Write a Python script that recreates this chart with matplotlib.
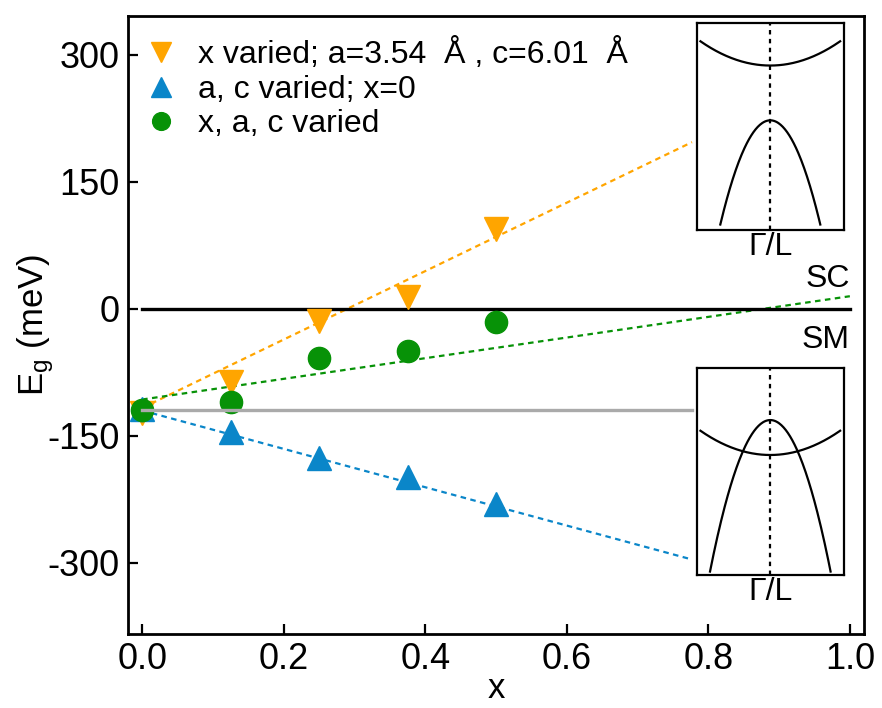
import matplotlib
matplotlib.use("Agg")
import matplotlib.pyplot as plt
import numpy as np

plt.rcParams['font.family'] = ['Liberation Sans', 'DejaVu Sans']
plt.rcParams['mathtext.default'] = 'regular'
plt.rcParams['axes.unicode_minus'] = False

# composition values
x = [0, 0.125, 0.25, 0.375, 0.5]
# band gaps (meV)
eg_x_varied = [-123, -86, -14, 14, 94]
eg_ac_varied = [-118, -145, -176, -199, -230]
eg_xac_varied = [-119, -110, -58, -50, -15]

# dotted guide lines (end points)
fit_x_orange = [0, 0.777]
fit_orange = [-117, 197]
fit_x_blue = [0, 0.777]
fit_blue = [-120, -296]
fit_x_green = [0, 1.0]
fit_green = [-107, 15]

# reference lines
zero_x = [0, 1.0]
zero_y = [0, 0]
gray_x = [0, 0.777]
gray_y = [-119, -119]

labels = ["x varied; a=3.54  Å , c=6.01  Å", "a, c varied; x=0", "x, a, c varied"]

c_orange = '#ffa500'
c_blue = '#0a86c9'
c_green = '#079207'
dash = (0, (2.5, 2))

fig = plt.figure(figsize=(8.82, 7.08), dpi=100)
ax = fig.add_axes([0.1451, 0.1045, 0.8345, 0.8729])

ax.plot(fit_x_orange, fit_orange, color=c_orange, lw=1.6, ls=dash, zorder=2)
ax.plot(fit_x_blue, fit_blue, color=c_blue, lw=1.6, ls=dash, zorder=2)
ax.plot(fit_x_green, fit_green, color=c_green, lw=1.6, ls=dash, zorder=2)
ax.plot(zero_x, zero_y, color='black', lw=2.4, zorder=2)

ax.plot(x, eg_x_varied, 'v', color=c_orange, ms=17.5, ls='none', label=labels[0], zorder=3)
ax.plot(x, eg_ac_varied, '^', color=c_blue, ms=17.5, ls='none', label=labels[1], zorder=3)
ax.plot(x, eg_xac_varied, 'o', color=c_green, ms=16, ls='none', label=labels[2], zorder=4)
ax.plot(gray_x, gray_y, color='#aaaaaa', lw=2.4, zorder=5)

ax.text(1.0, 35, 'SC', ha='right', va='center', fontsize=23)
ax.text(1.0, -37, 'SM', ha='right', va='center', fontsize=23)

ax.set_xlim(-0.02, 1.02)
ax.set_ylim(-384, 346)
ax.set_xticks([0, 0.2, 0.4, 0.6, 0.8, 1.0])
ax.set_xticklabels(['0.0', '0.2', '0.4', '0.6', '0.8', '1.0'])
ax.set_yticks([-300, -150, 0, 150, 300])
ax.tick_params(direction='in', length=7, width=1.6, labelsize=26, pad=6)
for s in ax.spines.values():
    s.set_linewidth(2)
ax.set_xlabel('x', fontsize=25, labelpad=-4)
ax.set_ylabel('E$_g$ (meV)', fontsize=25, labelpad=-6)

ax.legend(loc='upper left', frameon=False, fontsize=23, handletextpad=0.83,
          labelspacing=0.14, handlelength=0.66, borderaxespad=0.3, markerscale=0.8)

# schematic band insets
k = np.linspace(-1, 1, 201)
insets = [
    # bottom, cb_min, vb_top
    (0.675, 0.796, 0.531),
    (0.188, 0.58, 0.749),
]
cb_curv = 0.13
vb_curv = 1.09
for bottom, cb_min, vb_top in insets:
    ia = fig.add_axes([0.790, bottom, 0.1667, 0.292])
    ia.set_xlim(-1, 1)
    ia.set_ylim(0, 1)
    kc = k[np.abs(k) <= 0.955]
    ia.plot(kc, cb_min + cb_curv * kc ** 2, color='black', lw=1.6)
    kv = k[vb_top - vb_curv * k ** 2 >= 0.015]
    ia.plot(kv, vb_top - vb_curv * kv ** 2, color='black', lw=1.6)
    ia.axvline(0, color='black', lw=1.6, ls=(0, (2, 2)))
    ia.set_xticks([])
    ia.set_yticks([])
    for s in ia.spines.values():
        s.set_linewidth(1.6)
    ia.text(0.5, -0.01, 'Γ/L', transform=ia.transAxes, ha='center', va='top', fontsize=23)

fig.savefig('out.png', dpi=100)
